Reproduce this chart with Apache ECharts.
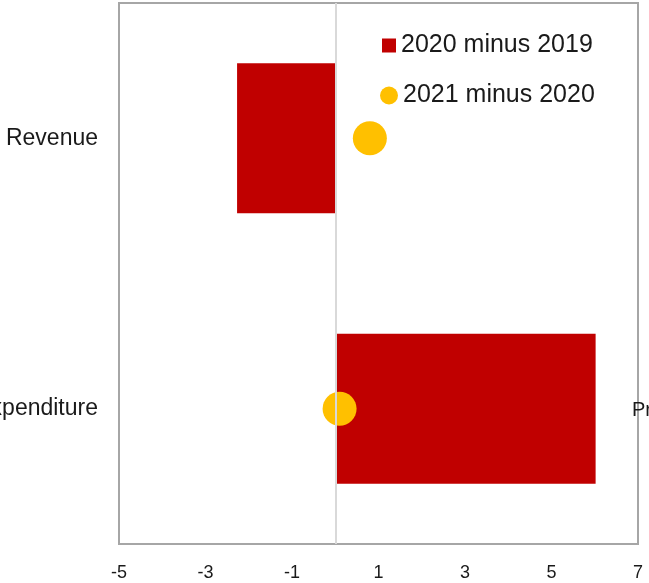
<!DOCTYPE html>
<html>
<head>
<meta charset="utf-8">
<script src="https://cdn.jsdelivr.net/npm/echarts@6/dist/echarts.min.js"></script>
<style>
html,body{margin:0;padding:0;background:#fff;}
#chart{width:649px;height:583px;}
</style>
</head>
<body>
<div id="chart"></div>
<script>
var categories = ['Revenue', 'Expenditure'];
var change2020 = [-2.27, 6.02];
var change2021 = [0.8, 0.1];
var xTicks = [-5, -3, -1, 1, 3, 5, 7];
var seriesNames = ['2020 minus 2019', '2021 minus 2020'];
var rightLabel = 'Pr';

var chart = echarts.init(document.getElementById('chart'), null, {renderer: 'canvas'});
var font = '"Liberation Sans", Arial, sans-serif';
chart.setOption({
  animation: false,
  backgroundColor: '#ffffff',
  grid: {
    left: 119, right: 11, top: 3, bottom: 39,
    containLabel: false, outerBoundsMode: 'none',
    show: true, borderColor: '#a6a6a6', borderWidth: 2, backgroundColor: 'transparent'
  },
  legend: [
    {
      data: [{name: seriesNames[0], icon: 'rect'}],
      left: 382, top: 33, padding: 0,
      itemWidth: 14, itemHeight: 14, itemGap: 5,
      textStyle: {fontFamily: font, fontSize: 25, color: '#1a1a1a'}
    },
    {
      data: [{name: seriesNames[1], icon: 'circle'}],
      left: 380, top: 83, padding: 0,
      itemWidth: 18, itemHeight: 18, itemGap: 5,
      textStyle: {fontFamily: font, fontSize: 25, color: '#1a1a1a'}
    }
  ],
  xAxis: {
    type: 'value', min: -5, max: 7, interval: 2,
    axisLine: {show: false}, axisTick: {show: false}, splitLine: {show: false},
    axisLabel: {
      fontFamily: font, fontSize: 18, color: '#1a1a1a', margin: 20,
      formatter: function (v) { return xTicks.indexOf(v) >= 0 ? String(v) : ''; }
    }
  },
  yAxis: {
    type: 'category', data: categories, inverse: true,
    axisLine: {show: false}, axisTick: {show: false}, splitLine: {show: false},
    axisLabel: {fontFamily: font, fontSize: 23, color: '#1a1a1a', margin: 21}
  },
  graphic: [{
    type: 'text', x: 632, y: 410, silent: true,
    style: {text: rightLabel, fontFamily: font, fontSize: 20, fill: '#1a1a1a', verticalAlign: 'middle', align: 'left'}
  }],
  series: [
    {
      name: seriesNames[0], type: 'bar', data: change2020,
      barWidth: '55.5%',
      itemStyle: {color: '#c00000'},
      markLine: {
        silent: true, symbol: 'none', label: {show: false},
        lineStyle: {color: '#d9d9d9', width: 2, type: 'solid'},
        data: [{xAxis: 0}]
      },
      z: 2
    },
    {
      name: seriesNames[1], type: 'scatter', data: change2021,
      symbol: 'circle', symbolSize: 34,
      itemStyle: {color: '#ffc000', opacity: 1},
      z: 3
    }
  ]
});
</script>
</body>
</html>
